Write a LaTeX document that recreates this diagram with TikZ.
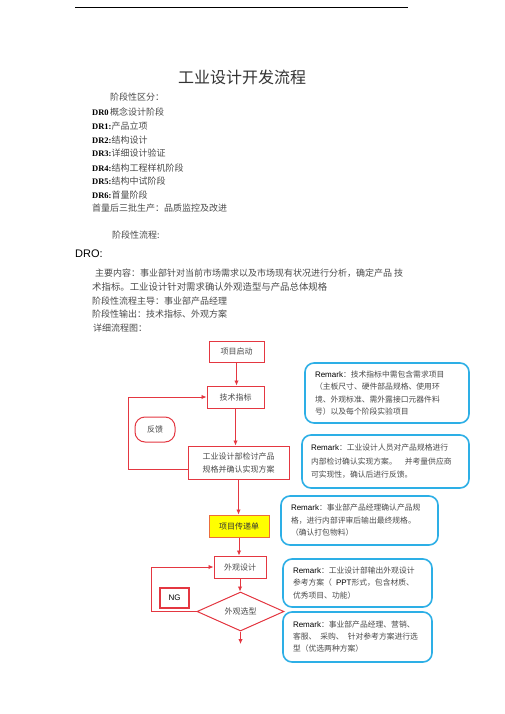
\documentclass[tikz,border=0pt]{standalone}
\usepackage{fontspec}
\setmainfont{Noto Sans CJK SC}
\newfontfamily\lsans{Liberation Sans}
\newfontfamily\lserif{Liberation Serif}
\usetikzlibrary{shapes.geometric,arrows.meta}
\definecolor{fr}{RGB}{228,55,65}
\definecolor{rb}{RGB}{45,175,230}
\definecolor{tx}{RGB}{75,75,75}
\definecolor{yf}{RGB}{255,255,0}
\definecolor{yb}{RGB}{235,110,60}
\newcommand\RmkWord{{\lsans\fontsize{8}{10}\selectfont\color{black}Remark}}
\newcommand\DRlab[1]{{\lserif\bfseries\fontsize{8.5}{10}\selectfont\color{black}#1}}
\tikzset{
  txt/.style={anchor=west, inner sep=0pt, font=\fontsize{9}{11}\selectfont, text=tx},
  fbox/.style={draw=fr, line width=1pt, inner sep=0pt, font=\fontsize{8}{13}\selectfont, text=tx},
  arr/.style={draw=fr, line width=0.9pt, -{Latex[length=5pt,width=4.5pt]}},
  rmk/.style={draw=rb, line width=1.6pt, rounded corners=9pt, align=left, text=tx,
              font=\fontsize{7.8}{12.5}\selectfont, inner ysep=0pt}
}
\begin{document}
\begin{tikzpicture}[x=1pt,y=-1pt]
\useasboundingbox[fill=white] (0,0) rectangle (505,714);
% top rule
\coordinate (r1) at (75,7);
\coordinate (r2) at (408,7);
\draw[line width=0.8pt] (r1) -- (r2);
% title
\node[inner sep=0pt, font=\fontsize{16}{18}\selectfont, text=black!80] (title) at (242,77) {工业设计开发流程};
\node[txt] (s1) at (110,97) {阶段性区分：};
\node[txt] (d0) at (92,112) {\DRlab{DR0}\,概念设计阶段};
\node[txt] (d1) at (92,126) {\DRlab{DR1:}产品立项};
\node[txt] (d2) at (92,140) {\DRlab{DR2:}结构设计};
\node[txt] (d3) at (92,153) {\DRlab{DR3:}详细设计验证};
\node[txt] (d4) at (92,168) {\DRlab{DR4:}结构工程样机阶段};
\node[txt] (d5) at (92,181) {\DRlab{DR5:}结构中试阶段};
\node[txt] (d6) at (92,195) {\DRlab{DR6:}首量阶段};
\node[txt] (d7) at (92,208) {首量后三批生产：品质监控及改进};
\node[txt] (s2) at (112,235) {阶段性流程:};
\node[txt, font=\lsans\fontsize{11}{13}\selectfont, text=black] (dro) at (75,254) {DRO:};
\node[txt, font=\fontsize{9}{11}\selectfont] (b1) at (95,273) {主要内容：事业部针对当前市场需求以及市场现有状况进行分析，确定产品 技};
\node[txt, font=\fontsize{9.4}{11}\selectfont] (b2) at (92,287) {术指标。工业设计针对需求确认外观造型与产品总体规格};
\node[txt] (b3) at (92,301) {阶段性流程主导：事业部产品经理};
\node[txt] (b4) at (92,314) {阶段性输出：技术指标、外观方案};
\node[txt] (b5) at (93,328) {详细流程图：};

% flowchart
\node[fbox, minimum width=55pt, minimum height=21pt] (start) at (236.5,351.5) {项目启动};
\node[fbox, minimum width=57pt, minimum height=22pt] (spec) at (235.5,397) {技术指标};
\node[fbox, minimum width=101pt, minimum height=33pt, align=left] (review) at (238.5,462.5) {工业设计部检讨产品\\规格并确认实现方案};
\node[fbox, minimum width=40pt, minimum height=25pt, rounded corners=10pt] (fb) at (155,429.5) {反馈};
\node[fbox, draw=yb, fill=yf, minimum width=60pt, minimum height=22pt, text=black!80] (trans) at (239,526) {项目传递单};
\node[fbox, minimum width=52pt, minimum height=22pt] (look) at (240,567) {外观设计};
\node[draw=fr, line width=1pt, diamond, aspect=2.2, minimum width=87pt, minimum height=39pt, inner sep=0pt,
      font=\fontsize{8}{10}\selectfont, text=tx] (sel) at (240.5,611.5) {外观选型};
\node[fbox, line width=1.2pt, minimum width=29pt, minimum height=20pt, font=\lsans\fontsize{8}{10}\selectfont, text=black] (ng) at (174.5,598) {NG};
\coordinate (fin) at (240.5,644);

\draw[arr] (start.south) -- (start.south |- spec.north);
\draw[arr] (spec.south) -- (spec.south |- review.north);
\draw[arr] ([yshift=-6.5pt]review.west) -- ++(-59,0) |- (spec.west);
\draw[arr] (review.south) -- (review.south |- trans.north);
\draw[arr] (trans.south) -- (trans.south |- look.north);
\draw[arr] (look.south) -- (look.south |- sel.north);
\draw[arr] (sel.west) -- ++(-45,0) |- (look.west);
\draw[arr] (sel.south) -- (fin);

% remarks
\node[rmk, text width=144pt, inner xsep=10pt, minimum height=60pt] (m1) at (387,393)
  {\RmkWord：技术指标中需包含需求项目\\（主板尺寸、硬件部品规格、使用环\\境、外观标准、需外露接口元器件料\\号）以及每个阶段实验项目};
\node[rmk, text width=149pt, inner xsep=9pt, minimum height=53pt, font=\fontsize{7.8}{13.5}\selectfont] (m2) at (385.5,461.5)
  {\RmkWord：工业设计人员对产品规格进行\\内部检讨确认实现方案。\hspace{8pt}并考量供应商\\可实现性，确认后进行反馈。};
\node[rmk, text width=137pt, inner xsep=10pt, minimum height=49pt] (m3) at (359.5,520.5)
  {\RmkWord：事业部产品经理确认产品规\\格，进行内部评审后输出最终规格。\\（确认打包物料）};
\node[rmk, text width=129pt, inner xsep=10pt, minimum height=48pt] (m4) at (357.5,583)
  {\RmkWord：工业设计部输出外观设计\\参考方案（\hspace{4pt}{\lsans\fontsize{8}{10}\selectfont\color{black}PPT}形式，包含材质、\\优秀项目、功能）};
\node[rmk, text width=129pt, inner xsep=10pt, minimum height=50pt, font=\fontsize{7.8}{12}\selectfont] (m5) at (357.5,637)
  {\RmkWord：事业部产品经理、营销、\\客服、\hspace{4pt}采购、\hspace{4pt}针对参考方案进行选\\型（优选两种方案）};
\end{tikzpicture}
\end{document}
